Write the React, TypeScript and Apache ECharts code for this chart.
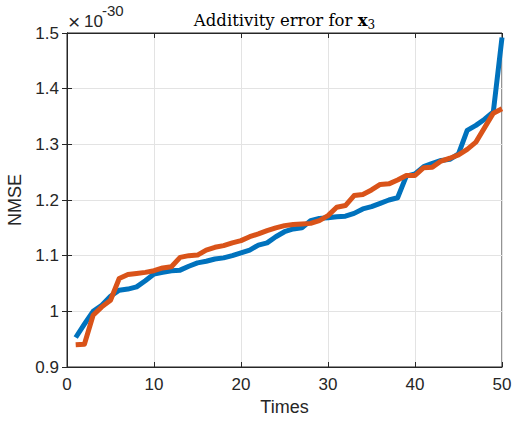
import React, { useEffect, useRef } from "react";
import * as echarts from "echarts";

// Run index on the horizontal axis
const times: number[] = Array.from({ length: 50 }, (_, i) => i + 1);

// NMSE values, in units of 1e-30
const blueNmse: number[] = [
  0.953, 0.977, 1.0, 1.011, 1.027, 1.038, 1.04, 1.044, 1.055, 1.067,
  1.07, 1.073, 1.074, 1.081, 1.087, 1.09, 1.094, 1.096, 1.1, 1.105,
  1.11, 1.119, 1.123, 1.134, 1.143, 1.148, 1.15, 1.163, 1.167, 1.168,
  1.17, 1.171, 1.176, 1.184, 1.188, 1.194, 1.2, 1.204, 1.243, 1.247,
  1.26, 1.266, 1.271, 1.273, 1.283, 1.325, 1.334, 1.345, 1.358, 1.492,
];

const orangeNmse: number[] = [
  0.94, 0.941, 0.993, 1.008, 1.02, 1.059, 1.066, 1.068, 1.07, 1.073,
  1.078, 1.08, 1.097, 1.1, 1.101, 1.11, 1.115, 1.118, 1.123, 1.127,
  1.134, 1.139, 1.145, 1.15, 1.154, 1.156, 1.157, 1.158, 1.163, 1.172,
  1.187, 1.19, 1.208, 1.21, 1.218, 1.228, 1.229, 1.236, 1.244, 1.244,
  1.258, 1.259, 1.27, 1.275, 1.281, 1.291, 1.304, 1.33, 1.356, 1.364,
];

const xMin = 0;
const xMax = 50;
const xStep = 10;
const yMin = 0.9;
const yMax = 1.5;
const yStep = 0.1;

const AXIS_COLOR = "#262626";
const GRID_COLOR = "#e3e3e3";
const SANS = "Liberation Sans, Arial, sans-serif";
const SERIF = "DejaVu Serif, serif";

export default function App() {
  const ref = useRef<HTMLDivElement>(null);

  useEffect(() => {
    if (!ref.current) return;
    const chart = echarts.init(ref.current, undefined, { renderer: "svg" });

    const grid = { left: 67, right: 11, top: 33, bottom: 59 };
    const plotCenterX = grid.left + (513 - grid.left - grid.right) / 2;

    const tickStyle = {
      show: true,
      inside: true,
      length: 5,
      lineStyle: { color: AXIS_COLOR, width: 1 },
    };

    const option: any = {
      animation: false,
      backgroundColor: "#ffffff",
      grid: {
        ...grid,
        outerBoundsMode: "none",
        containLabel: false,
        show: true,
        borderColor: AXIS_COLOR,
        borderWidth: 1,
        backgroundColor: "#ffffff",
      },
      xAxis: [
        {
          type: "value",
          min: xMin,
          max: xMax,
          interval: xStep,
          name: "Times",
          nameLocation: "middle",
          nameGap: 30,
          nameTextStyle: { fontFamily: SANS, fontSize: 18, color: AXIS_COLOR },
          axisLine: { show: true, lineStyle: { color: AXIS_COLOR, width: 1 } },
          axisTick: tickStyle,
          axisLabel: {
            fontFamily: SANS,
            fontSize: 17,
            color: AXIS_COLOR,
            margin: 9,
          },
          splitLine: { show: true, lineStyle: { color: GRID_COLOR, width: 1 } },
        },
        {
          type: "value",
          position: "top",
          min: xMin,
          max: xMax,
          interval: xStep,
          axisLine: { show: true, lineStyle: { color: AXIS_COLOR, width: 1 } },
          axisTick: tickStyle,
          axisLabel: { show: false },
          splitLine: { show: false },
        },
      ],
      yAxis: [
        {
          type: "value",
          min: yMin,
          max: yMax,
          interval: yStep,
          name: "NMSE",
          nameLocation: "middle",
          nameGap: 34,
          nameTextStyle: { fontFamily: SANS, fontSize: 18, color: AXIS_COLOR },
          axisLine: { show: true, lineStyle: { color: AXIS_COLOR, width: 1 } },
          axisTick: tickStyle,
          axisLabel: {
            fontFamily: SANS,
            fontSize: 17,
            color: AXIS_COLOR,
            margin: 8,
            formatter: (v: number) => String(Number(v.toFixed(1))),
          },
          splitLine: { show: true, lineStyle: { color: GRID_COLOR, width: 1 } },
        },
        {
          type: "value",
          position: "right",
          min: yMin,
          max: yMax,
          interval: yStep,
          axisLine: { show: true, lineStyle: { color: AXIS_COLOR, width: 1 } },
          axisTick: tickStyle,
          axisLabel: { show: false },
          splitLine: { show: false },
        },
      ],
      series: [
        {
          type: "line",
          data: times.map((t, i) => [t, blueNmse[i]]),
          showSymbol: false,
          symbol: "none",
          lineStyle: { color: "#0072BD", width: 5, join: "round" },
          itemStyle: { color: "#0072BD" },
          z: 2,
        },
        {
          type: "line",
          data: times.map((t, i) => [t, orangeNmse[i]]),
          showSymbol: false,
          symbol: "none",
          lineStyle: { color: "#D95319", width: 5, join: "round" },
          itemStyle: { color: "#D95319" },
          z: 3,
        },
      ],
      graphic: [
        // exponent marker for the vertical axis: ×10^-30
        {
          type: "text",
          x: 68,
          y: 21,
          style: {
            text: "×",
            align: "left",
            verticalAlign: "middle",
            fontFamily: SANS,
            fontSize: 21,
            fill: AXIS_COLOR,
          },
        },
        {
          type: "text",
          x: 84,
          y: 21,
          style: {
            text: "10",
            align: "left",
            verticalAlign: "middle",
            fontFamily: SANS,
            fontSize: 17,
            fill: AXIS_COLOR,
          },
        },
        {
          type: "text",
          x: 102,
          y: 10,
          style: {
            text: "-30",
            align: "left",
            verticalAlign: "middle",
            fontFamily: SANS,
            fontSize: 15,
            fill: AXIS_COLOR,
          },
        },
        {
          type: "text",
          x: plotCenterX,
          y: 20,
          style: {
            text: "{a|Additivity error for }{b|x}{s|3}",
            align: "center",
            verticalAlign: "middle",
            fill: "#000000",
            rich: {
              a: {
                fontFamily: SERIF,
                fontSize: 16.5,
                lineHeight: 22,
                verticalAlign: "middle",
                fill: "#000000",
              },
              b: {
                fontFamily: SERIF,
                fontSize: 16.5,
                fontWeight: "bold",
                lineHeight: 22,
                verticalAlign: "middle",
                fill: "#000000",
              },
              s: {
                fontFamily: SERIF,
                fontSize: 12,
                lineHeight: 12,
                verticalAlign: "bottom",
                fill: "#000000",
              },
            },
          },
        },
      ],
    };

    chart.setOption(option);
    return () => chart.dispose();
  }, []);

  return (
    <div
      ref={ref}
      style={{ position: "absolute", left: 0, top: 0, width: 513, height: 426 }}
    />
  );
}
